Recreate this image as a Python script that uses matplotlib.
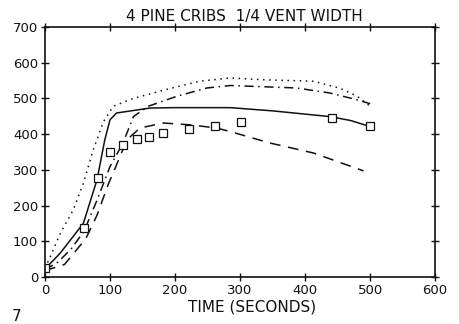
import matplotlib
matplotlib.use("Agg")
import matplotlib.pyplot as plt

# Measured data (squares)
t_meas = [0, 60, 81, 100, 120, 141, 160, 181, 222, 262, 302, 441, 500]
v_meas = [24, 138, 276, 351, 370, 386, 393, 404, 414, 424, 435, 445, 424]

# Model curves
t_solid = [0, 3, 23, 59, 80, 92, 100, 110, 162, 200, 285, 350, 438, 470, 500]
v_solid = [20, 28, 66, 150, 272, 384, 440, 459, 473, 474, 474, 465, 449, 438, 421]

t_dot = [0, 8, 23, 44, 59, 74, 90, 105, 136, 187, 238, 285, 336, 413, 454, 480, 500]
v_dot = [25, 56, 120, 190, 262, 355, 435, 478, 500, 525, 548, 557, 552, 548, 528, 506, 478]

t_dashdot = [0, 20, 40, 60, 80, 100, 120, 136, 159, 203, 249, 285, 387, 438, 480, 500]
v_dashdot = [20, 42, 78, 128, 215, 309, 375, 449, 478, 506, 529, 536, 529, 515, 496, 485]

t_dash = [0, 30, 63, 80, 97, 108, 126, 146, 182, 223, 264, 285, 346, 413, 490]
v_dash = [18, 35, 108, 173, 258, 305, 384, 417, 431, 426, 417, 407, 375, 347, 297]

x_ticks = [0, 100, 200, 300, 400, 500, 600]
y_ticks = [0, 100, 200, 300, 400, 500, 600, 700]

plt.rcParams['font.family'] = ['DejaVu Sans']

fig = plt.figure(figsize=(4.59, 3.24), dpi=100)
ax = fig.add_axes([0.098, 0.145, 0.850, 0.772])

lc = '#111111'
ax.plot(t_solid, v_solid, color=lc, lw=1.1, ls='-')
ax.plot(t_dot, v_dot, color=lc, lw=1.1, ls=(0, (1, 3)))
ax.plot(t_dashdot, v_dashdot, color=lc, lw=1.1, ls=(0, (6, 3, 1, 3)))
ax.plot(t_dash, v_dash, color=lc, lw=1.1, ls=(0, (7, 5)))
ax.plot(t_meas, v_meas, ls='none', marker='s', ms=5.5, mfc='white',
        mec=lc, mew=0.9)

ax.set_xlim(0, 600)
ax.set_ylim(0, 700)
ax.set_xticks(x_ticks)
ax.set_yticks(y_ticks)
ax.tick_params(direction='inout', length=6, width=1, top=True, right=True,
               labelsize=9.5, colors=lc, pad=2)
for s in ax.spines.values():
    s.set_linewidth(1.2)
    s.set_color(lc)

ax.set_title('4 PINE CRIBS  1/4 VENT WIDTH', fontsize=11, color=lc, pad=4,
             x=0.51)
ax.set_xlabel('TIME (SECONDS)', fontsize=11, color=lc, labelpad=2, x=0.53)
fig.text(0.025, 0.0, '7', fontsize=11, color=lc, va='bottom')

fig.savefig('out.png', dpi=100)
